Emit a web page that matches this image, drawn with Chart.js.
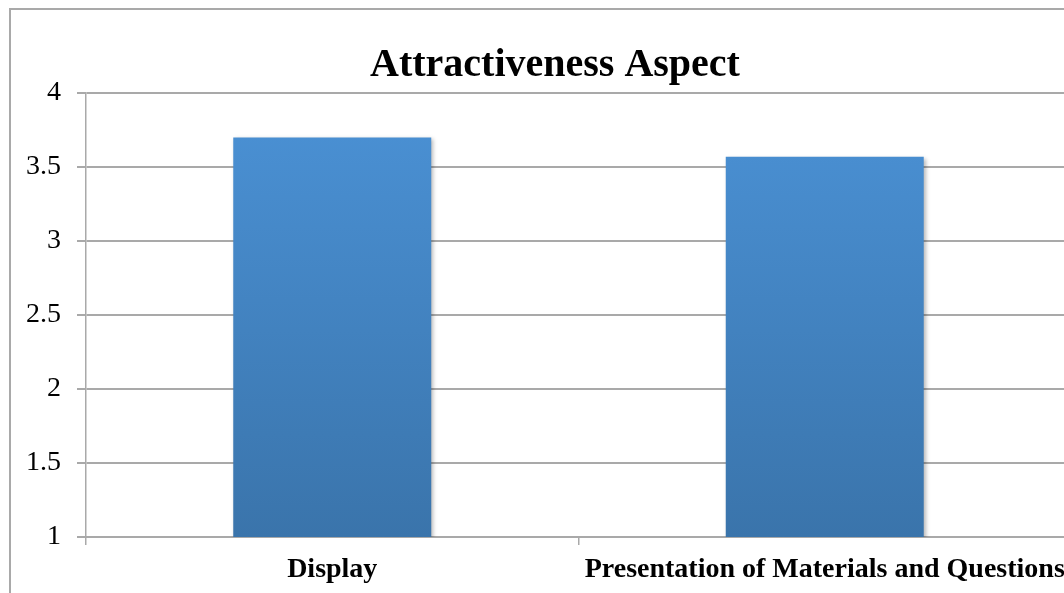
<!DOCTYPE html>
<html>
<head>
<meta charset="utf-8">
<script src="https://cdn.jsdelivr.net/npm/chart.js@4"></script>
<style>
  html, body { margin: 0; padding: 0; background: #fff; overflow: hidden; width: 1064px; height: 593px; }
  #frame { position: absolute; left: 9px; top: 8px; width: 1200px; height: 700px; border: 2px solid #a9a9a9; box-sizing: border-box; }
  #chart { position: absolute; left: 0; top: 0; }
</style>
</head>
<body>
<div id="frame"></div>
<canvas id="chart" width="1110" height="593"></canvas>
<script>
const categories = ["Display", "Presentation of Materials and Questions"];
const scores = [3.7, 3.57];
const yTicks = [1, 1.5, 2, 2.5, 3, 3.5, 4];

const serif = "'Liberation Serif', 'Times New Roman', serif";

// soft shadow behind the bars
const barShadow = {
  id: "barShadow",
  beforeDatasetsDraw(chart) {
    const ctx = chart.ctx;
    ctx.save();
    ctx.shadowColor = "rgba(0,0,0,0.28)";
    ctx.shadowBlur = 4;
    ctx.shadowOffsetX = 2;
    ctx.shadowOffsetY = 2;
  },
  afterDatasetsDraw(chart) {
    chart.ctx.restore();
  }
};

function barGradient(context) {
  const area = context.chart.chartArea;
  if (!area) return "#4a8fd2";
  const g = context.chart.ctx.createLinearGradient(0, area.top, 0, area.bottom);
  g.addColorStop(0, "#4b92d6");
  g.addColorStop(1, "#3a74ab");
  return g;
}

new Chart(document.getElementById("chart"), {
  type: "bar",
  data: {
    labels: categories,
    datasets: [{
      data: scores,
      yAxisID: "y",
      backgroundColor: barGradient,
      borderWidth: 0,
      categoryPercentage: 1,
      barPercentage: 0.402
    }]
  },
  options: {
    responsive: false,
    animation: false,
    layout: { padding: 0 },
    plugins: {
      legend: { display: false },
      tooltip: { enabled: false },
      title: {
        display: true,
        text: "Attractiveness Aspect",
        color: "#000",
        font: { family: serif, size: 40, weight: "bold", lineHeight: 1.2 },
        padding: { top: 42, bottom: 3 }
      }
    },
    scales: {
      x: {
        afterFit(scale) { scale.height = 56; },
        grid: { display: true, drawOnChartArea: false, drawTicks: true, tickLength: 8, offset: true, color: "#a9a9a9", lineWidth: 1.5 },
        border: { display: true, color: "#a9a9a9", width: 2 },
        ticks: {
          color: "#000",
          padding: 8,
          maxRotation: 0,
          autoSkip: false,
          font: { family: serif, size: 28, weight: "bold", lineHeight: 1.2 }
        }
      },
      y: {
        min: 1,
        max: 4,
        afterFit(scale) { scale.width = 86; },
        afterBuildTicks(scale) { scale.ticks = yTicks.map(v => ({ value: v })); },
        grid: { color: "#a9a9a9", lineWidth: 2, tickLength: 9 },
        border: { display: true, color: "#a9a9a9", width: 1.5 },
        ticks: {
          color: "#000",
          padding: 16,
          font: { family: serif, size: 28, lineHeight: 1.2 },
          callback: v => String(v)
        }
      },
      // empty spacer on the right so the plot runs past the visible edge
      spacer: {
        type: "linear",
        position: "right",
        min: 1,
        max: 4,
        afterFit(scale) { scale.width = 39; },
        grid: { display: false },
        border: { display: false },
        ticks: { display: false }
      }
    }
  },
  plugins: [barShadow]
});
</script>
</body>
</html>
